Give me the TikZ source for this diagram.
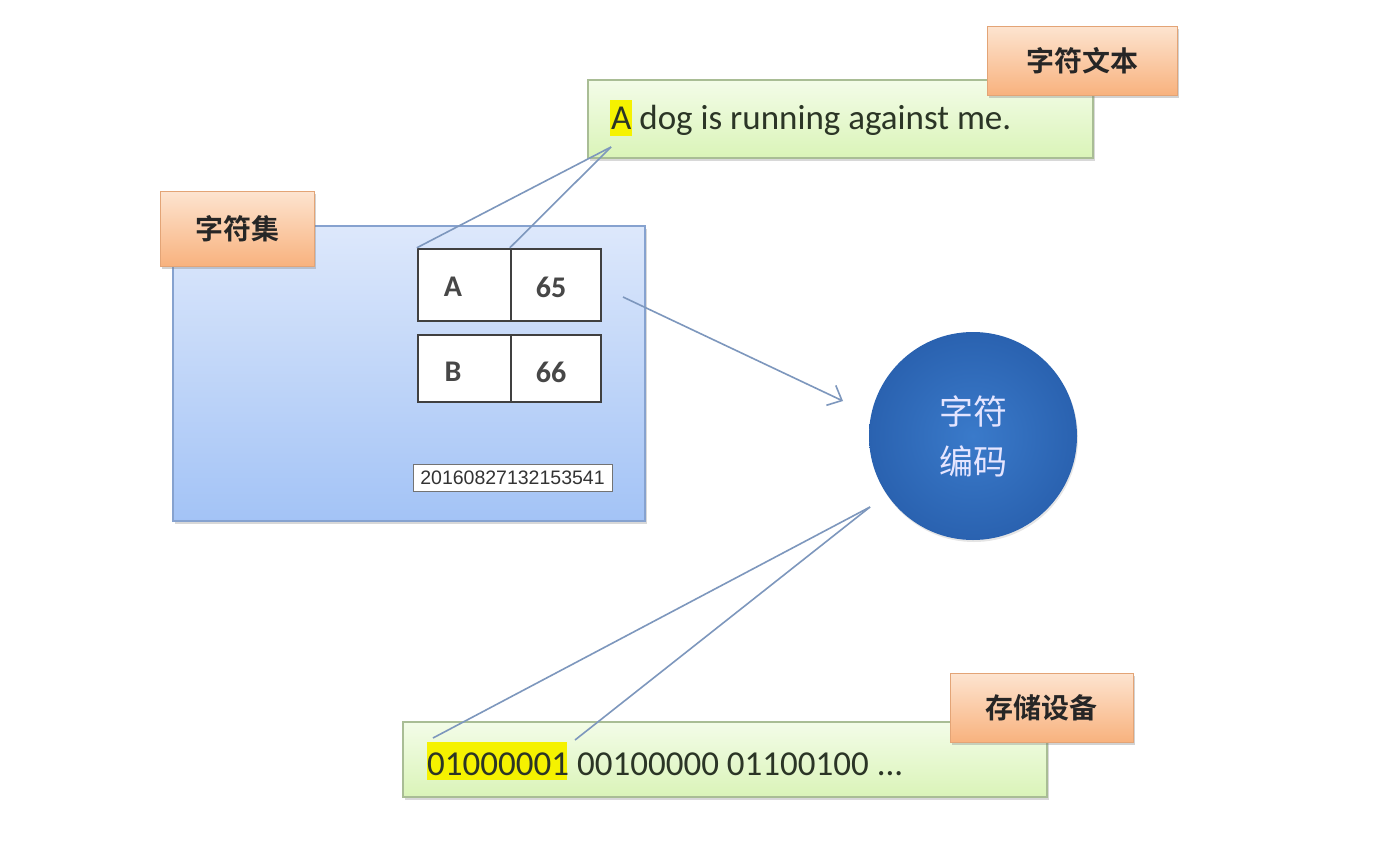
\documentclass[tikz,border=0pt]{standalone}
\usepackage{fontspec}
\setmainfont{Carlito}
\newfontfamily\cjk{Noto Sans CJK SC}[BoldFont={Noto Sans CJK SC Bold}]
\newfontfamily\wm{Liberation Sans}
\usetikzlibrary{shadows,arrows.meta}
\definecolor{lineblue}{HTML}{7D97BD}
\definecolor{hly}{HTML}{F5F200}
\definecolor{txt}{HTML}{2B3526}
\definecolor{gtop}{HTML}{F3FCE8}
\definecolor{gbot}{HTML}{DAF4B8}
\definecolor{gbord}{HTML}{A9BD95}
\definecolor{otop}{HTML}{FDE4D0}
\definecolor{obot}{HTML}{F8B27E}
\definecolor{obord}{HTML}{E3A476}
\definecolor{btop}{HTML}{DDE8FB}
\definecolor{bbot}{HTML}{A3C3F6}
\definecolor{bbord}{HTML}{86A2CF}
\definecolor{cin}{HTML}{3A7ACA}
\definecolor{cout}{HTML}{2A62B0}
\tikzset{
  greenbox/.style={draw=gbord, line width=1.2pt, top color=gtop, bottom color=gbot, minimum width=#1, drop shadow={opacity=0.3, shadow xshift=2pt, shadow yshift=-3pt}},
  tagbox/.style={draw=obord, line width=1pt, top color=otop, bottom color=obot, drop shadow={opacity=0.35, shadow xshift=2pt, shadow yshift=-3pt}, font=\cjk\bfseries\fontsize{28}{32}\selectfont, text=black!85, inner sep=0pt},
  cell/.style={draw=black!75, line width=2.4pt, fill=white, inner sep=0pt},
  celltxt/.style={font=\bfseries\fontsize{30}{34}\selectfont, text=black!72, inner sep=0pt},
  conn/.style={draw=lineblue, line width=1.6pt},
  hl/.style={fill=hly, inner sep=0pt},
}
\begin{document}
\begin{tikzpicture}[x=1pt,y=-1pt]
\fill[white] (0,0) rectangle (1392,841);
\useasboundingbox (0,0) rectangle (1392,841);

% character set box
\node[draw=bbord, line width=1.4pt, top color=btop, bottom color=bbot, minimum width=472pt, minimum height=295pt, drop shadow={opacity=0.3, shadow xshift=2pt, shadow yshift=-3pt}] (set) at (409,373.5) {};
\node[tagbox, minimum width=154pt, minimum height=75pt] (setlab) at (237,228.5) {字符集};

% table
\node[cell, minimum width=93pt, minimum height=72pt] (cA) at (464.5,285) {};
\node[cell, minimum width=90pt, minimum height=72pt] (c65) at (556,285) {};
\node[cell, minimum width=93pt, minimum height=67pt] (cB) at (464.5,368.5) {};
\node[cell, minimum width=90pt, minimum height=67pt] (c66) at (556,368.5) {};
\node[celltxt] (tA) at (453,287) {A};
\node[celltxt] (t65) at (551,287) {65};
\node[celltxt] (tB) at (453,372) {B};
\node[celltxt] (t66) at (551,372) {66};

% watermark
\node[draw=black!55, line width=0.8pt, fill=white, minimum width=199pt, minimum height=27pt, inner sep=0pt, font=\wm\fontsize{19.5}{22}\selectfont, text=black!80] (wm) at (512.5,477.5) {20160827132153541};

% text box
\node[greenbox=505pt, minimum height=78pt] (tbox) at (840.5,119) {};
\node[hl, minimum width=22pt, minimum height=36pt] (hA) at (621,118) {};
\node[anchor=base west, inner sep=0pt, font=\fontsize{35}{40}\selectfont, text=txt] (sent) at (611,129) {A dog is running against me.};
\node[tagbox, minimum width=190pt, minimum height=69pt] (tlab) at (1082,60.5) {字符文本};

% encoding circle
\node[circle, minimum size=208pt, inner color=cin, outer color=cout, drop shadow={opacity=0.2, shadow xshift=1pt, shadow yshift=-2pt}, text=white!90!blue, font=\cjk\fontsize{34}{50}\selectfont, align=center] (enc) at (973,436) {字符\\编码};

% storage box
\node[greenbox=644pt, minimum height=75pt] (sbox) at (725,759.5) {};
\node[hl, minimum width=140pt, minimum height=38pt] (hB) at (497,761) {};
\node[anchor=base west, inner sep=0pt, font=\fontsize{35}{40}\selectfont, text=txt] (bits) at (427,775) {01000001 00100000 01100100 ...};
\node[tagbox, minimum width=183pt, minimum height=69pt] (slab) at (1041.5,707.5) {存储设备};

% connectors
\coordinate (aEnd) at (611,147);
\coordinate (arrS) at (623,297);
\coordinate (arrE) at (843,401);
\coordinate (cS) at (870,507);
\coordinate (b1) at (433,738);
\coordinate (b2) at (575,740);
\draw[conn] (cA.north west) -- (aEnd);
\draw[conn] (c65.north west) -- (aEnd);
\draw[conn, -{Straight Barb[length=12pt, width=22pt, line width=1.6pt]}] (arrS) -- (arrE);
\draw[conn] (cS) -- (b1);
\draw[conn] (cS) -- (b2);
\end{tikzpicture}
\end{document}
